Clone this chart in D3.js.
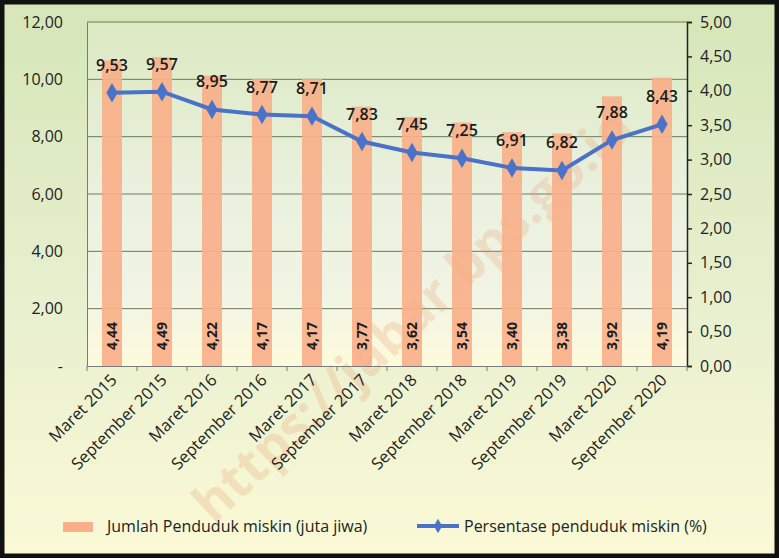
<!DOCTYPE html>
<html><head><meta charset="utf-8">
<script src="https://cdn.jsdelivr.net/npm/d3@7"></script>
<style>body{margin:0;background:#fff}svg{display:block}</style>
</head><body>
<script>
const categories = ["Maret 2015","September 2015","Maret 2016","September 2016","Maret 2017","September 2017","Maret 2018","September 2018","Maret 2019","September 2019","Maret 2020","September 2020"];
const jumlah = [4.44,4.49,4.22,4.17,4.17,3.77,3.62,3.54,3.40,3.38,3.92,4.19];
const persentase = [9.53,9.57,8.95,8.77,8.71,7.83,7.45,7.25,6.91,6.82,7.88,8.43];
const leftTicks = [0,2,4,6,8,10,12];
const rightTicks = [0,0.5,1,1.5,2,2.5,3,3.5,4,4.5,5];
const legendLabels = ["Jumlah Penduduk miskin (juta jiwa)","Persentase penduduk miskin (%)"];

const W=779,H=558;
const m={l:87,r:687,t:22,b:366};
const fmt = v => v.toFixed(2).replace(".",",");
const font = "'Open Sans', 'Noto Sans', sans-serif";

const svg=d3.select("body").append("svg").attr("width",W).attr("height",H);
const defs=svg.append("defs");
const g1=defs.append("linearGradient").attr("id","bg").attr("x1",0).attr("y1",0).attr("x2",0).attr("y2",1);
g1.append("stop").attr("offset",0).attr("stop-color","#d6e6b8");
g1.append("stop").attr("offset",0.55).attr("stop-color","#e8f0cf");
g1.append("stop").attr("offset",1).attr("stop-color","#fbf9d6");
const g2=defs.append("linearGradient").attr("id","pa").attr("x1",0).attr("y1",0).attr("x2",0).attr("y2",1);
g2.append("stop").attr("offset",0).attr("stop-color","#dce9c2");
g2.append("stop").attr("offset",0.5).attr("stop-color","#eaf1df");
g2.append("stop").attr("offset",0.8).attr("stop-color","#f2f4e4");
g2.append("stop").attr("offset",1).attr("stop-color","#fdfbdc");

svg.append("rect").attr("x",2).attr("y",2).attr("width",W-4).attr("height",H-4)
  .attr("fill","url(#bg)").attr("stroke","#111").attr("stroke-width",5);
svg.append("rect").attr("x",m.l).attr("y",m.t).attr("width",m.r-m.l).attr("height",m.b-m.t).attr("fill","url(#pa)");

const x=d3.scaleBand().domain(categories).range([m.l,m.r]);
const yL=d3.scaleLinear().domain([0,12]).range([m.b,m.t]);
const yR=d3.scaleLinear().domain([0,5]).range([m.b,m.t]);

// gridlines
svg.append("g").selectAll("line").data(leftTicks.filter(d=>d>0)).join("line")
  .attr("x1",m.l).attr("x2",m.r).attr("y1",d=>yL(d)).attr("y2",d=>yL(d))
  .attr("stroke","#6b7a5e").attr("stroke-width",1);

// watermark
svg.append("text").attr("transform","translate(425,328) rotate(-43)")
  .attr("text-anchor","middle").attr("font-family",font).attr("font-weight","bold")
  .attr("font-size",52).attr("fill","#e8a070").attr("opacity",0.25)
  .text("https://jabar.bps.go.id");

// bars
const bw=20;
svg.append("g").selectAll("rect").data(jumlah).join("rect")
  .attr("x",(d,i)=>x(categories[i])+x.bandwidth()/2-bw/2).attr("width",bw)
  .attr("y",d=>yR(d)).attr("height",d=>m.b-yR(d)).attr("fill","#f8b08a").attr("opacity",0.92);

// axes
const axL=svg.append("g").attr("transform",`translate(${m.l},0)`)
  .call(d3.axisLeft(yL).tickValues(leftTicks).tickSize(0).tickPadding(24).tickFormat(d=>d===0?"-":fmt(d)));
axL.select(".domain").attr("stroke","#7a7a7a");
axL.selectAll("text").attr("font-family",font).attr("font-size",16).attr("fill","#222");

const axR=svg.append("g").attr("transform",`translate(${m.r},0)`)
  .call(d3.axisRight(yR).tickValues(rightTicks).tickSize(5).tickPadding(8).tickFormat(fmt));
axR.select(".domain").attr("stroke","#222").attr("stroke-width",1.5);
axR.selectAll(".tick line").attr("stroke","#222").attr("stroke-width",1.5);
axR.selectAll("text").attr("font-family",font).attr("font-size",16).attr("fill","#222");

const axB=svg.append("g").attr("transform",`translate(0,${m.b})`)
  .call(d3.axisBottom(x).tickSize(0).tickFormat(""));
axB.select(".domain").attr("stroke","#7a7a7a");
svg.append("g").selectAll("line").data(d3.range(categories.length+1)).join("line")
  .attr("x1",i=>m.l+i*x.step()).attr("x2",i=>m.l+i*x.step()).attr("y1",m.b).attr("y2",m.b+5)
  .attr("stroke","#7a7a7a");
svg.append("g").selectAll("text").data(categories).join("text")
  .attr("transform",d=>`translate(${x(d)+x.bandwidth()/2+6},${m.b+15}) rotate(-45)`)
  .attr("text-anchor","end").attr("font-family",font).attr("font-size",16.5).attr("fill","#222")
  .text(d=>d);

// line
const line=d3.line().x((d,i)=>x(categories[i])+x.bandwidth()/2).y(d=>yL(d));
svg.append("path").datum(persentase).attr("d",line).attr("fill","none")
  .attr("stroke","#4a72c8").attr("stroke-width",4);
svg.append("g").selectAll("path").data(persentase).join("path")
  .attr("d",d3.symbol(d3.symbolDiamond,110)())
  .attr("transform",(d,i)=>`translate(${x(categories[i])+x.bandwidth()/2},${yL(d)})`)
  .attr("fill","#4a72c8");

// labels
svg.append("g").selectAll("text").data(persentase).join("text")
  .attr("x",(d,i)=>x(categories[i])+x.bandwidth()/2).attr("y",d=>yL(d)-22)
  .attr("text-anchor","middle").attr("font-family",font).attr("font-weight","600")
  .attr("font-size",16).attr("fill","#1a1a1a").text(fmt);
svg.append("g").selectAll("text").data(jumlah).join("text")
  .attr("transform",(d,i)=>`translate(${x(categories[i])+x.bandwidth()/2+5},${336}) rotate(-90)`)
  .attr("text-anchor","middle").attr("font-family",font).attr("font-weight","bold")
  .attr("font-size",14).attr("fill","#1a1a1a").text(fmt);

// legend
const lg=svg.append("g");
lg.append("rect").attr("x",63).attr("y",522).attr("width",30).attr("height",10).attr("fill","#f8b08a");
lg.append("text").attr("x",107).attr("y",532).attr("font-family",font).attr("font-size",16).attr("fill","#222").text(legendLabels[0]);
lg.append("line").attr("x1",417).attr("x2",459).attr("y1",526).attr("y2",526).attr("stroke","#4a72c8").attr("stroke-width",4);
lg.append("path").attr("d",d3.symbol(d3.symbolDiamond,60)()).attr("transform","translate(438,526)").attr("fill","#4a72c8");
lg.append("text").attr("x",464).attr("y",532).attr("font-family",font).attr("font-size",16).attr("fill","#222").text(legendLabels[1]);
</script>
</body></html>
